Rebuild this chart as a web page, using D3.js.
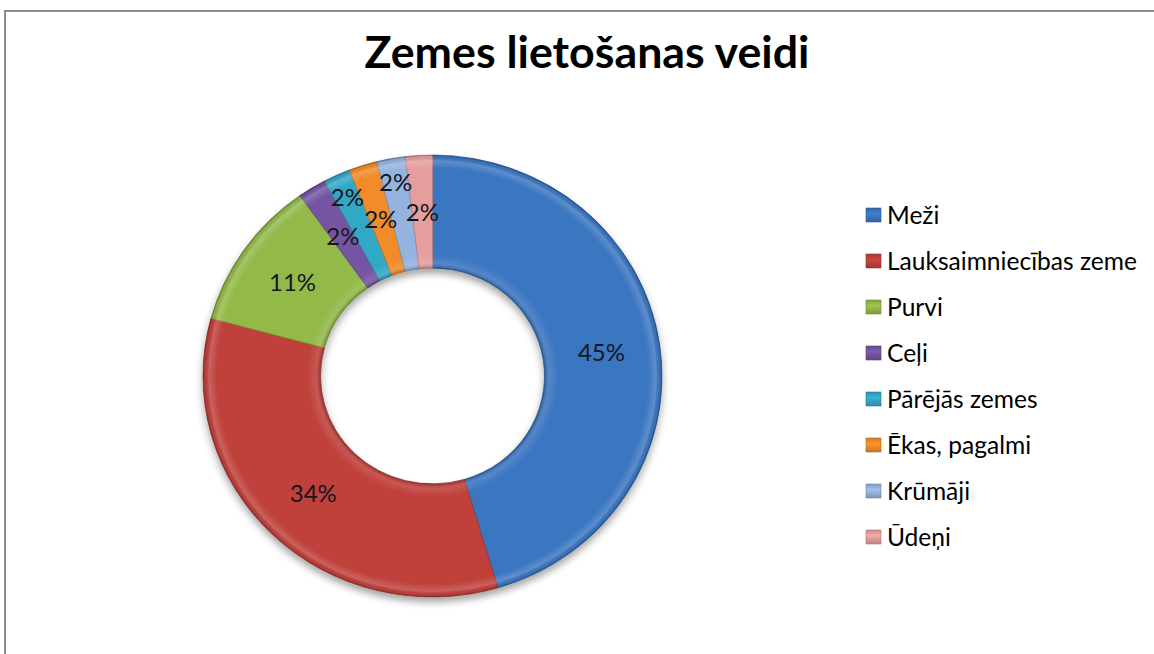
<!DOCTYPE html>
<html>
<head>
<meta charset="utf-8">
<script src="https://cdn.jsdelivr.net/npm/d3@7"></script>
<style>
  html, body { margin: 0; padding: 0; background: #fff; }
  svg { display: block; }
</style>
</head>
<body>
<svg id="chart" width="1154" height="654"></svg>
<script>
const categories = ["Meži", "Lauksaimniecības zeme", "Purvi", "Ceļi", "Pārējās zemes", "Ēkas, pagalmi", "Krūmāji", "Ūdeņi"];
const values = [45.4, 33.8, 11.0, 2.0, 1.9, 2.0, 2.0, 1.9];
const colors = ["#3b76c1", "#c0403a", "#93b948", "#7454a3", "#33a7c6", "#f28b2a", "#94b3df", "#e59e9e"];
const labelOuter = [0, 0, 0, 0, 1, 0, 1, 0];
const title = "Zemes lietošanas veidi";

const svg = d3.select("#chart");
const W = 1154, H = 654;
const font = "Lato, 'Open Sans', sans-serif";

// frame
svg.append("path")
  .attr("d", `M5,${H} L5,11 L${W},11`)
  .attr("fill", "none")
  .attr("stroke", "#8c8c8c")
  .attr("stroke-width", 2);

// title
const t = svg.append("text")
  .attr("x", 587).attr("y", 68)
  .attr("text-anchor", "middle")
  .attr("font-family", font)
  .attr("font-weight", "bold")
  .attr("font-size", 38)
  .attr("fill", "#000")
  .text(title);
{
  const w = t.node().getComputedTextLength();
  if (w > 0) t.attr("font-size", 38 * 445 / w);
}

const cx = 432.5, cy = 376, sy = 0.963;
const Ro = 229.5, Ri = 112;

const defs = svg.append("defs");
const sh = defs.append("filter").attr("id", "shadow")
  .attr("x", "-20%").attr("y", "-20%").attr("width", "140%").attr("height", "140%");
sh.append("feGaussianBlur").attr("in", "SourceAlpha").attr("stdDeviation", 4).attr("result", "b");
sh.append("feOffset").attr("in", "b").attr("dx", 0).attr("dy", 5).attr("result", "o");
sh.append("feComponentTransfer").attr("in", "o").attr("result", "o2")
  .append("feFuncA").attr("type", "linear").attr("slope", 0.35);
const m = sh.append("feMerge");
m.append("feMergeNode").attr("in", "o2");
m.append("feMergeNode").attr("in", "SourceGraphic");

// bevel overlay gradient
const rg = defs.append("radialGradient").attr("id", "bevel")
  .attr("gradientUnits", "userSpaceOnUse")
  .attr("cx", 0).attr("cy", 0).attr("r", Ro);
[
  [Ri / Ro, "#000", 0.25],
  [(Ri + 5) / Ro, "#fff", 0.12],
  [(Ri + 14) / Ro, "#fff", 0.0],
  [(Ro - 14) / Ro, "#fff", 0.0],
  [(Ro - 6) / Ro, "#fff", 0.18],
  [(Ro - 2) / Ro, "#000", 0.05],
  [1, "#000", 0.3]
].forEach(([o, c, a]) => rg.append("stop").attr("offset", o).attr("stop-color", c).attr("stop-opacity", a));

const pie = d3.pie().sort(null).value(d => d)(values);
const arc = d3.arc().innerRadius(Ri).outerRadius(Ro);

const g = svg.append("g")
  .attr("transform", `translate(${cx},${cy}) scale(1,${sy})`);
const gs = g.append("g").attr("filter", "url(#shadow)");
gs.selectAll("path.slice").data(pie).join("path")
  .attr("class", "slice")
  .attr("d", arc)
  .attr("fill", (d, i) => colors[i])
  .attr("stroke", (d, i) => d3.color(colors[i]).darker(0.6))
  .attr("stroke-width", 0.8);
g.selectAll("path.bev").data(pie).join("path")
  .attr("class", "bev")
  .attr("d", arc)
  .attr("fill", "url(#bevel)");

// labels
const total = d3.sum(values);
svg.append("g").selectAll("text").data(pie).join("text")
  .attr("transform", (d, i) => {
    const r = labelOuter[i] ? 204 : (Ri + Ro) / 2;
    const a = (d.startAngle + d.endAngle) / 2;
    return `translate(${cx + r * Math.sin(a)},${cy - r * Math.cos(a) * sy})`;
  })
  .attr("text-anchor", "middle")
  .attr("dy", "0.36em")
  .attr("font-family", font)
  .attr("font-size", 24)
  .attr("fill", "#16161e")
  .text(d => Math.round(d.value / total * 100) + "%");

// legend
const lg = svg.append("g");
categories.forEach((c, i) => {
  const gr = defs.append("linearGradient").attr("id", "lg" + i)
    .attr("x1", 0).attr("y1", 0).attr("x2", 0).attr("y2", 1);
  gr.append("stop").attr("offset", 0).attr("stop-color", d3.color(colors[i]).darker(0.4));
  gr.append("stop").attr("offset", 0.4).attr("stop-color", d3.color(colors[i]).brighter(0.2));
  gr.append("stop").attr("offset", 1).attr("stop-color", d3.color(colors[i]).darker(0.5));
});
const rowY = d3.scalePoint().domain(categories).range([215, 537]);
const items = lg.selectAll("g").data(categories).join("g")
  .attr("transform", d => `translate(866,${rowY(d)})`);
items.append("rect")
  .attr("x", 0).attr("y", -7).attr("width", 15).attr("height", 14)
  .attr("fill", (d, i) => `url(#lg${i})`)
  .attr("stroke", (d, i) => d3.color(colors[i]).darker(0.8))
  .attr("stroke-width", 0.6);
const lt = items.append("text")
  .attr("x", 21).attr("dy", "0.36em")
  .attr("font-family", font)
  .attr("font-size", 24)
  .attr("fill", "#000")
  .text(d => d);
{
  const w = lt.nodes()[1].getComputedTextLength();
  if (w > 0) lt.attr("font-size", 24 * 250 / w);
}
</script>
</body>
</html>
